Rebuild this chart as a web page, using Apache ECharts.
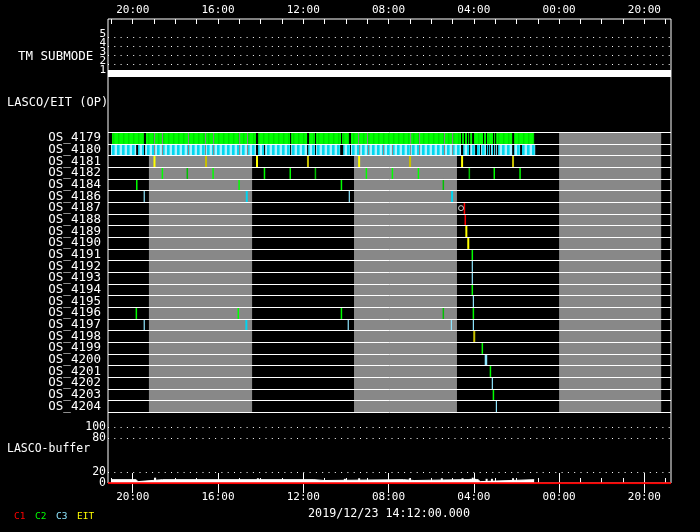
<!DOCTYPE html>
<html>
<head>
<meta charset="utf-8">
<script src="https://cdn.jsdelivr.net/npm/echarts@6/dist/echarts.min.js"></script>
<style>
html, body { margin: 0; background: #000; }
#chart { width: 700px; height: 532px; }
</style>
</head>
<body>
<div id="chart"></div>
<script>
// time axis: hours counted to the right from the left-hand 20:00 label
var axisMin = -1.16;
var axisMax = 25.25;
var tickHours = [0, 4, 8, 12, 16, 20, 24];
var tickLabels = ['20:00', '16:00', '12:00', '08:00', '04:00', '00:00', '20:00'];

// TM submode
var submodeLevels = [1, 2, 3, 4, 5];
var submodeTimes = [axisMin, axisMax];
var submodeValues = [1, 1];

// LASCO/EIT OP rows
var rows = ['OS_4179', 'OS_4180', 'OS_4181', 'OS_4182', 'OS_4184', 'OS_4186', 'OS_4187', 'OS_4188',
  'OS_4189', 'OS_4190', 'OS_4191', 'OS_4192', 'OS_4193', 'OS_4194', 'OS_4195', 'OS_4196',
  'OS_4197', 'OS_4198', 'OS_4199', 'OS_4200', 'OS_4201', 'OS_4202', 'OS_4203', 'OS_4204'];

// shaded (grey) periods [start, end]
var greyPeriods = [[0.76, 5.60], [10.38, 15.21], [20.00, 24.79]];

// continuous runs for OS_4179 (C2) and OS_4180 (C3), minus the gaps
var span4179 = [-0.97, 18.83];
var gaps4179 = [[0.53, 0.62], [1.00, 1.05], [1.37, 1.42], [2.59, 2.64], [3.39, 3.44], [3.77, 3.82],
  [4.99, 5.04], [5.36, 5.41], [5.78, 5.88], [7.38, 7.43], [8.18, 8.27], [8.55, 8.60], [9.77, 9.82],
  [10.15, 10.24], [10.57, 10.62], [10.99, 11.04], [13.01, 13.06], [13.43, 13.48], [14.60, 14.65],
  [14.98, 15.03], [15.40, 15.45], [15.54, 15.59], [15.68, 15.73], [15.78, 15.83], [15.92, 16.01],
  [16.43, 16.48], [16.57, 16.62], [16.90, 16.95], [17.00, 17.05], [17.80, 17.89]];
var span4180 = [-1.02, 18.88];
var gaps4180 = [[0.16, 0.25], [0.53, 0.58], [1.00, 1.05], [1.37, 1.42], [2.59, 2.64], [3.39, 3.44],
  [3.77, 3.82], [4.99, 5.04], [5.36, 5.41], [5.78, 5.88], [6.16, 6.21], [7.38, 7.43], [8.18, 8.23],
  [8.55, 8.60], [9.73, 9.87], [10.19, 10.24], [10.62, 10.67], [11.04, 11.09], [11.74, 11.79],
  [12.16, 12.21], [13.01, 13.06], [13.43, 13.48], [14.60, 14.65], [14.98, 15.03], [15.40, 15.50],
  [15.78, 15.83], [16.06, 16.15], [16.29, 16.34], [16.57, 16.62], [16.67, 16.72], [16.76, 16.81],
  [16.90, 16.95], [17.00, 17.05], [17.09, 17.14], [17.80, 17.89], [18.17, 18.26]];

// single exposures: [row, hour, kind]
var exposures = [
  ['OS_4181', 1.02, 'EIT'], ['OS_4181', 3.44, 'EITd'], ['OS_4181', 5.83, 'EIT'], ['OS_4181', 8.22, 'EITd'],
  ['OS_4181', 10.62, 'EIT'], ['OS_4181', 13.01, 'EITd'], ['OS_4181', 15.45, 'EIT'], ['OS_4181', 17.84, 'EITd'],
  ['OS_4182', 1.39, 'C2'], ['OS_4182', 2.56, 'C2d'], ['OS_4182', 3.77, 'C2'], ['OS_4182', 6.18, 'C2'],
  ['OS_4182', 7.39, 'C2'], ['OS_4182', 8.57, 'C2d'], ['OS_4182', 10.96, 'C2'], ['OS_4182', 12.18, 'C2'],
  ['OS_4182', 13.40, 'C2'], ['OS_4182', 15.79, 'C2d'], ['OS_4182', 16.96, 'C2'], ['OS_4182', 18.17, 'C2'],
  ['OS_4184', 0.19, 'C2'], ['OS_4184', 4.99, 'C2'], ['OS_4184', 9.79, 'C2'], ['OS_4184', 14.57, 'C2d'],
  ['OS_4186', 0.54, 'C3l'], ['OS_4186', 5.35, 'C3'], ['OS_4186', 10.16, 'C3l'], ['OS_4186', 14.98, 'C3'],
  ['OS_4187', 15.56, 'C1'], ['OS_4188', 15.60, 'C1'],
  ['OS_4189', 15.65, 'EIT'], ['OS_4190', 15.74, 'EIT'],
  ['OS_4191', 15.93, 'C2'], ['OS_4192', 15.93, 'C3l'], ['OS_4193', 15.93, 'C3l'], ['OS_4194', 15.93, 'C2'],
  ['OS_4195', 15.98, 'C3l'],
  ['OS_4196', 0.17, 'C2'], ['OS_4196', 4.95, 'C2'], ['OS_4196', 9.79, 'C2'], ['OS_4196', 14.57, 'C2d'], ['OS_4196', 15.98, 'C2'],
  ['OS_4197', 0.54, 'C3l'], ['OS_4197', 5.33, 'C3'], ['OS_4197', 10.11, 'C3l'], ['OS_4197', 14.95, 'C3l'], ['OS_4197', 15.98, 'C3l'],
  ['OS_4198', 16.02, 'EITd'], ['OS_4199', 16.40, 'C2'], ['OS_4200', 16.57, 'C3w'], ['OS_4201', 16.78, 'C2'],
  ['OS_4202', 16.87, 'C3l'], ['OS_4203', 16.92, 'C2'], ['OS_4204', 17.06, 'C3l']
];
var markerRow = 'OS_4187';
var markerHour = 15.40;

// LASCO buffer fill level
var bufTimes = [-1.01, 0.15, 0.25, 1.40, 1.48, 8.50, 9.00, 12.70, 13.20, 15.55, 15.62, 16.20, 16.30, 18.83];
var bufValues = [6.5, 3, 6.5, 4, 6.5, 5, 6.5, 5, 6.5, 4, 6.5, 3, 6.5, 6.5];
var bufPeakTimes = [1.05, 5.87, 9.95, 10.62, 13.00, 14.50, 15.47, 15.85, 15.95, 16.05, 16.60, 16.85, 17.84];
var bufPeakValues = [10, 9, 8, 9, 9, 9, 9, 8, 10, 8, 8, 8, 9];
var bufC1Times = [axisMin, axisMax];
var bufC1Values = [0, 0];
var bufLevels = [0, 20, 80, 100];

var kinds = {
  C1: { color: '#ff0000', w: 1.5 },
  C2: { color: '#00ff00', w: 1.5 },
  C2d: { color: '#00c000', w: 1.5 },
  C3: { color: '#00d4f0', w: 2 },
  C3l: { color: '#8ee6ff', w: 1.2 },
  C3w: { color: '#8ee6ff', w: 2.5 },
  EIT: { color: '#ffff00', w: 2 },
  EITd: { color: '#c8c000', w: 2 }
};
var kindNames = Object.keys(kinds);

var FONT = '"DejaVu Sans Mono", monospace';

function stripes(cols) {
  var c = document.createElement('canvas');
  c.width = cols.length; c.height = 1;
  var g = c.getContext('2d');
  cols.forEach(function (col, i) { g.fillStyle = col; g.fillRect(i, 0, 1, 1); });
  return { image: c, repeat: 'repeat' };
}
var greenFill = stripes(['#00ff00', '#00ff00', '#00ff00', '#00dc00', '#00f000']);
var cyanFill = stripes(['#a8f0ff', '#a8f0ff', '#00d8f0', '#00d8f0', '#40e0f4']);

function runs(span, gaps, rowIdx) {
  var out = [], s = span[0];
  gaps.forEach(function (g) { out.push([s, g[0], rowIdx]); s = g[1]; });
  out.push([s, span[1], rowIdx]);
  return out;
}
var runData = runs(span4179, gaps4179, 0).concat(runs(span4180, gaps4180, 1));
var expData = exposures.map(function (e) { return [e[1], rows.indexOf(e[0]), kindNames.indexOf(e[2])]; });

var hourTicks = [];
for (var h = -1; h <= 25; h++) hourTicks.push(h);

function labelOf(v) {
  var i = tickHours.indexOf(v);
  return i < 0 ? '' : tickLabels[i];
}

function timeAxis(grid, pos, major) {
  return {
    type: 'value', gridIndex: grid, position: pos, min: axisMin, max: axisMax, offset: 0,
    axisLine: { show: false },
    axisTick: major === null ? { show: false } : {
      show: true, inside: true, length: major ? 10 : 5,
      customValues: major ? tickHours : hourTicks, lineStyle: { color: '#fff', width: 1 }
    },
    axisLabel: major ? {
      show: true, customValues: tickHours, formatter: labelOf, color: '#fff',
      fontFamily: FONT, fontSize: 11, margin: pos === 'top' ? 3 : 9,
      hideOverlap: false, showMinLabel: true, showMaxLabel: true
    } : { show: false },
    splitLine: { show: false }
  };
}

var dotted = { color: '#fff', width: 1, type: [1, 5.3] };

// level lines with the value written at their left end
function levelLines(levels, hidden, dy, size) {
  return {
    silent: true, symbol: 'none', lineStyle: dotted,
    label: {
      show: true, position: 'start', distance: 2, formatter: '{c}', color: '#fff',
      fontFamily: FONT, fontSize: size, offset: [0, dy]
    },
    data: levels.map(function (v) {
      var d = { yAxis: v };
      if (hidden.indexOf(v) >= 0) d.lineStyle = { color: 'rgba(0,0,0,0)' };
      return d;
    })
  };
}

var chart = echarts.init(document.getElementById('chart'));
chart.setOption({
  backgroundColor: '#000',
  animation: false,
  grid: [
    { left: 108, right: 29, top: 19, bottom: 49, show: true, borderColor: '#fff', borderWidth: 1 },
    { left: 108, right: 29, top: 19.5, height: 63 },
    { left: 108, right: 29, top: 132.3, height: 280 },
    { left: 108, right: 29, top: 427.3, height: 56 }
  ],
  xAxis: [
    timeAxis(0, 'top', true),
    timeAxis(0, 'top', false),
    timeAxis(0, 'bottom', true),
    timeAxis(0, 'bottom', false),
    timeAxis(1, 'bottom', null),
    timeAxis(2, 'bottom', null),
    timeAxis(3, 'bottom', null)
  ],
  yAxis: [
    { type: 'value', gridIndex: 0, show: false, min: 0, max: 1 },
    { type: 'value', gridIndex: 1, min: 0, max: 7, show: false },
    {
      type: 'category', gridIndex: 2, data: rows, inverse: true, z: 10,
      axisLine: { show: false }, axisTick: { show: false },
      axisLabel: { interval: 0, color: '#fff', fontFamily: FONT, fontSize: 12.5, margin: 7, hideOverlap: false },
      splitLine: { show: true, interval: 0, lineStyle: { color: '#fff', width: 1 } }
    },
    { type: 'value', gridIndex: 3, min: 0, max: 100, show: false }
  ],
  series: [
    {
      type: 'line', xAxisIndex: 4, yAxisIndex: 1, symbol: 'none', silent: true,
      data: submodeTimes.map(function (t, i) { return [t, submodeValues[i]]; }),
      lineStyle: { color: '#fff', width: 7 },
      markLine: levelLines(submodeLevels, [1], -3, 11)
    },
    {
      type: 'custom', xAxisIndex: 5, yAxisIndex: 2, z: 1, silent: true,
      data: greyPeriods,
      renderItem: function (params, api) {
        var cs = params.coordSys;
        var a = api.coord([api.value(0), 0])[0], b = api.coord([api.value(1), 0])[0];
        return { type: 'rect', shape: { x: a, y: cs.y, width: b - a, height: cs.height }, style: { fill: '#888888' } };
      }
    },
    {
      type: 'custom', xAxisIndex: 5, yAxisIndex: 2, z: 2, silent: true,
      data: runData,
      renderItem: function (params, api) {
        var r = api.value(2);
        var a = api.coord([api.value(0), r]), b = api.coord([api.value(1), r]);
        var band = api.size([0, 1])[1];
        return {
          type: 'rect',
          shape: { x: a[0], y: a[1] - band / 2, width: b[0] - a[0], height: band },
          style: { fill: r === 0 ? greenFill : cyanFill }
        };
      }
    },
    {
      type: 'custom', xAxisIndex: 5, yAxisIndex: 2, z: 3, silent: true,
      data: expData,
      renderItem: function (params, api) {
        var p = api.coord([api.value(0), api.value(1)]);
        var band = api.size([0, 1])[1];
        var k = kinds[kindNames[api.value(2)]];
        return {
          type: 'rect',
          shape: { x: p[0] - k.w / 2, y: p[1] - band / 2, width: k.w, height: band },
          style: { fill: k.color }
        };
      }
    },
    {
      type: 'scatter', xAxisIndex: 5, yAxisIndex: 2, z: 4, silent: true,
      data: [[markerHour, rows.indexOf(markerRow)]],
      symbol: 'circle', symbolSize: 5,
      itemStyle: { color: '#000', borderColor: '#fff', borderWidth: 1 }
    },
    {
      type: 'line', xAxisIndex: 6, yAxisIndex: 3, symbol: 'none', silent: true, step: 'end',
      data: bufTimes.map(function (t, i) { return [t, bufValues[i]]; }),
      lineStyle: { color: '#fff', width: 1 },
      areaStyle: { color: '#fff', opacity: 1 },
      markLine: levelLines(bufLevels, [0], 0, 11.5)
    },
    {
      type: 'bar', xAxisIndex: 6, yAxisIndex: 3, silent: true, barWidth: 2,
      data: bufPeakTimes.map(function (t, i) { return [t, bufPeakValues[i]]; }),
      itemStyle: { color: '#fff' }
    },
    {
      type: 'line', xAxisIndex: 6, yAxisIndex: 3, symbol: 'none', silent: true, z: 5,
      data: bufC1Times.map(function (t, i) { return [t, bufC1Values[i]]; }),
      lineStyle: { color: '#ff0000', width: 2 }
    }
  ],
  graphic: [
    { type: 'text', x: 18, y: 57, style: { text: 'TM SUBMODE', fill: '#fff', font: '12.5px ' + FONT, verticalAlign: 'middle' } },
    { type: 'text', x: 7, y: 103, style: { text: 'LASCO/EIT (OP)', fill: '#fff', font: '12px ' + FONT, verticalAlign: 'middle' } },
    { type: 'text', x: 7, y: 449, style: { text: 'LASCO-buffer', fill: '#fff', font: '11.5px ' + FONT, verticalAlign: 'middle' } },
    { type: 'text', x: 389, y: 514, style: { text: '2019/12/23 14:12:00.000', fill: '#fff', font: '11.7px ' + FONT, align: 'center', verticalAlign: 'middle' } },
    { type: 'text', x: 14, y: 517, style: { text: 'C1', fill: '#ff0000', font: '9.5px ' + FONT, verticalAlign: 'middle' } },
    { type: 'text', x: 35, y: 517, style: { text: 'C2', fill: '#00ff00', font: '9.5px ' + FONT, verticalAlign: 'middle' } },
    { type: 'text', x: 56, y: 517, style: { text: 'C3', fill: '#8ee6ff', font: '9.5px ' + FONT, verticalAlign: 'middle' } },
    { type: 'text', x: 77, y: 517, style: { text: 'EIT', fill: '#ffff00', font: '9.5px ' + FONT, verticalAlign: 'middle' } }
  ]
});
</script>
</body>
</html>
